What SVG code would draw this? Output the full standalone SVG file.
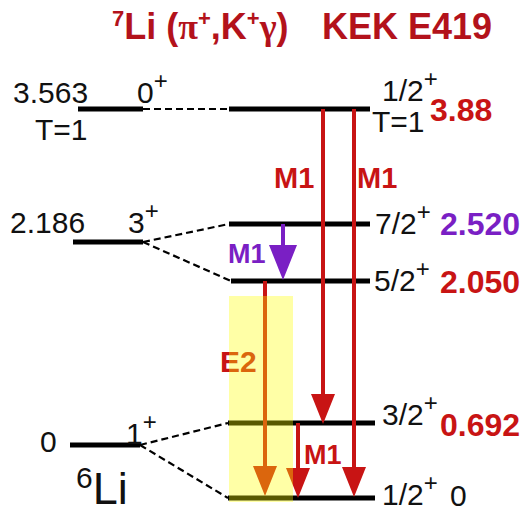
<svg xmlns="http://www.w3.org/2000/svg" width="529" height="513" viewBox="0 0 529 513">
<style>
text{font-family:"Liberation Sans",Arial,sans-serif}
.lbl{font-size:30px;fill:#111}
.sup{font-size:24px}
.big{font-size:32px;font-weight:bold}
.lvl{stroke:#000;stroke-width:5;fill:none}
.dash{stroke:#000;stroke-width:2.2;stroke-dasharray:7 4;fill:none}
.red{stroke:#c81414;stroke-width:4;fill:none}
.pur{stroke:#7a1fc4;stroke-width:4;fill:none}
.tr{fill:#c81414;font-weight:bold}
.tp{fill:#7a1fc4;font-weight:bold}
</style>
<defs>
<marker id="hr" viewBox="0 0 30 24" refX="18" refY="12" markerWidth="30" markerHeight="24" markerUnits="userSpaceOnUse" orient="auto"><path d="M0,0 L30,12 L0,24 z" fill="#c81414"/></marker>
<marker id="hp" viewBox="0 0 35 28" refX="23" refY="14" markerWidth="35" markerHeight="28" markerUnits="userSpaceOnUse" orient="auto"><path d="M0,0 L35,14 L0,28 z" fill="#7a1fc4"/></marker>
</defs>
<rect width="529" height="513" fill="#fff"/>
<g id="title">
<text x="112" y="39" font-size="36" font-weight="bold" fill="#b3121b"><tspan font-size="22" dy="-13">7</tspan><tspan dy="13">Li (</tspan><tspan font-family="Liberation Serif">π</tspan><tspan font-size="22" dy="-13">+</tspan><tspan dy="13">,K</tspan><tspan font-size="22" dy="-13">+</tspan><tspan dy="13" font-family="Liberation Serif">γ</tspan>)</text>
<text x="322" y="39" font-size="36" font-weight="bold" fill="#b3121b">KEK E419</text>
</g>
<g id="li6">
<g id="li6-3563"><line class="lvl" x1="78" y1="109" x2="143" y2="109"/><text class="lbl" x="13" y="103">3.563</text><text class="lbl" x="35" y="140">T=1</text><text class="lbl" x="137" y="103">0<tspan class="sup" dy="-14">+</tspan></text></g>
<g id="li6-2186"><line class="lvl" x1="73" y1="242" x2="143" y2="242"/><text class="lbl" x="10" y="233">2.186</text><text class="lbl" x="128" y="233">3<tspan class="sup" dy="-14">+</tspan></text></g>
<g id="li6-0"><line class="lvl" x1="70" y1="445" x2="140" y2="445"/><text class="lbl" x="40" y="452">0</text><text class="lbl" x="126" y="444">1<tspan class="sup" dy="-14">+</tspan></text></g>
<text x="76" y="504" font-size="45" fill="#111"><tspan font-size="30" dy="-16">6</tspan><tspan dy="16">Li</tspan></text>
</g>
<g id="li7">
<g id="l388"><line class="lvl" x1="229" y1="109" x2="370" y2="109"/><text class="lbl" x="382" y="101">1/2<tspan class="sup" dy="-14">+</tspan></text><text class="lbl" x="372" y="132" font-size="28">T=1</text><text class="big tr" x="430" y="121">3.88</text></g>
<g id="l2520"><line class="lvl" x1="229" y1="224" x2="370" y2="224"/><text class="lbl" x="375" y="234">7/2<tspan class="sup" dy="-14">+</tspan></text><text class="big tp" x="440" y="235">2.520</text></g>
<g id="l2050"><line class="lvl" x1="231" y1="281" x2="370" y2="281"/><text class="lbl" x="374" y="291">5/2<tspan class="sup" dy="-14">+</tspan></text><text class="big tr" x="440" y="293">2.050</text></g>
<g id="l0692"><line class="lvl" x1="228" y1="423" x2="375" y2="423"/><text class="lbl" x="382" y="425">3/2<tspan class="sup" dy="-14">+</tspan></text><text class="big tr" x="440" y="436">0.692</text></g>
<g id="l0"><line class="lvl" x1="228" y1="498" x2="375" y2="498"/><text class="lbl" x="382" y="505">1/2<tspan class="sup" dy="-14">+</tspan></text><text class="lbl" x="450" y="506">0</text></g>
</g>
<g id="connectors">
<line class="dash" x1="143" y1="109" x2="229" y2="109"/>
<line class="dash" x1="143" y1="242" x2="229" y2="224"/>
<line class="dash" x1="143" y1="242" x2="231" y2="281"/>
<line class="dash" x1="140" y1="445" x2="228" y2="423"/>
<line class="dash" x1="140" y1="445" x2="228" y2="498"/>
<line class="red" x1="323" y1="109" x2="323" y2="412" marker-end="url(#hr)"/>
<line class="red" x1="354" y1="109" x2="354" y2="485" marker-end="url(#hr)"/>
<line class="pur" x1="283" y1="224" x2="283" y2="268" marker-end="url(#hp)"/>
<line class="red" x1="265" y1="281" x2="265" y2="484" marker-end="url(#hr)"/>
<line class="red" x1="298" y1="423" x2="298" y2="486" marker-end="url(#hr)"/>
</g>
<g id="labels">
<text class="tr" x="274" y="188" font-size="29">M1</text>
<text class="tr" x="357" y="188" font-size="29">M1</text>
<text class="tp" x="228" y="263" font-size="27">M1</text>
<text class="tr" x="220" y="372" font-size="30">E2</text>
<text class="tr" x="304" y="464" font-size="27">M1</text>
</g>
<rect id="highlight" x="229" y="296" width="64" height="206" fill="#ffff00" opacity="0.35"/>
</svg>
